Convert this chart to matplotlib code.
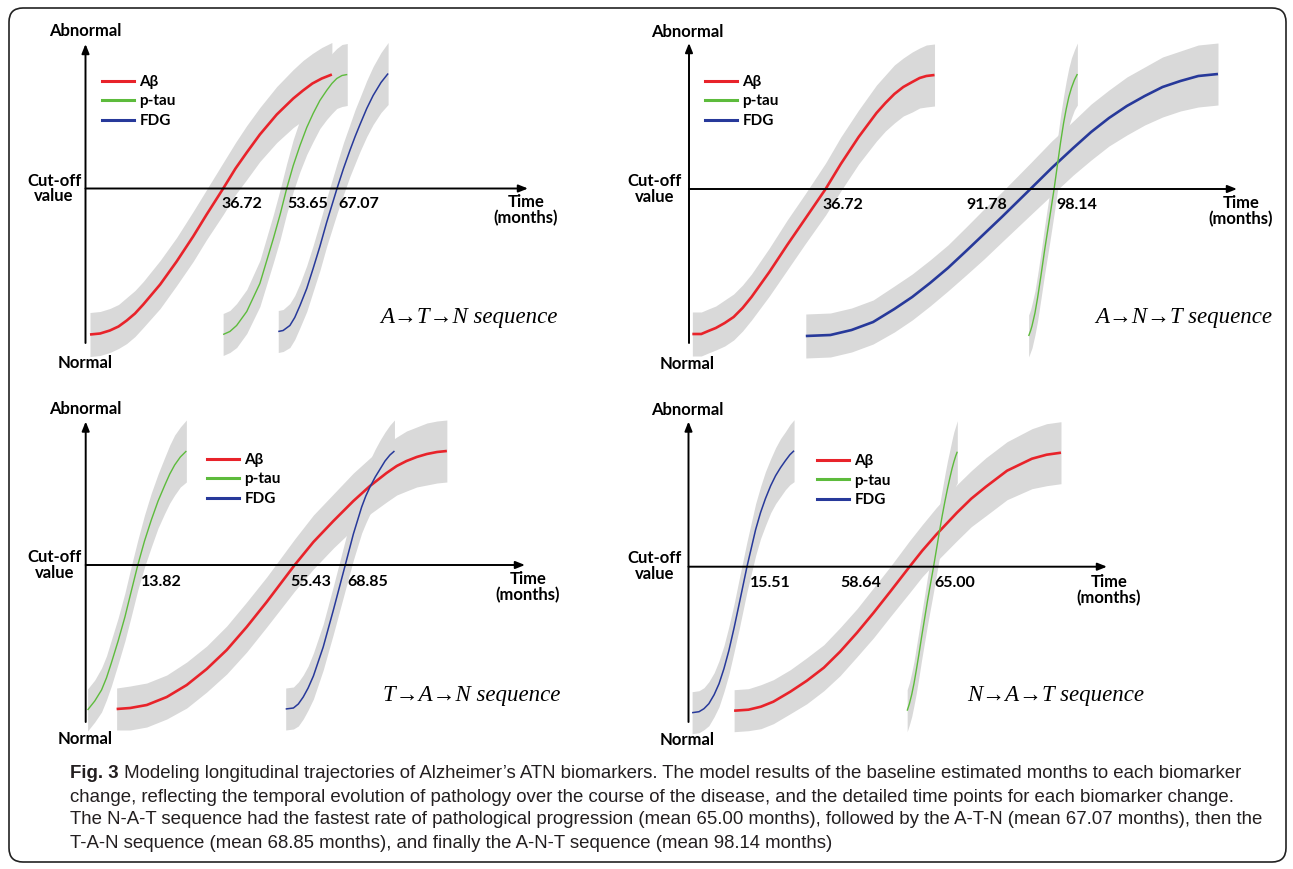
import matplotlib
matplotlib.use("Agg")
import numpy as np
import matplotlib.pyplot as plt
from matplotlib.lines import Line2D
from matplotlib.patches import FancyBboxPatch
from matplotlib.font_manager import FontProperties

# ------------------------------------------------------------------ data
biomarkers = ["Aβ", "p-tau", "FDG"]
sequences = ["A→T→N sequence", "A→N→T sequence", "T→A→N sequence", "N→A→T sequence"]

# Panel 1: A -> T -> N   (month, level relative to cut-off, ci half width)
p1_ab_month = [1.2, 3.9, 6.5, 8.8, 11.0, 13.2, 15.4, 19.9, 24.3, 28.7, 32.3, 36.72, 40.0, 43.0, 46.5, 51.0, 55.4, 58.0, 60.5, 63.0, 65.7]
p1_ab_level = [-1.46, -1.45, -1.42, -1.38, -1.32, -1.25, -1.16, -0.96, -0.73, -0.48, -0.26, 0.0, 0.20, 0.36, 0.54, 0.74, 0.90, 0.98, 1.05, 1.10, 1.14]
p1_ab_ci = [0.22, 0.22, 0.22, 0.22, 0.23, 0.23, 0.23, 0.24, 0.24, 0.25, 0.25, 0.26, 0.26, 0.27, 0.27, 0.28, 0.29, 0.30, 0.30, 0.31, 0.32]
p1_tau_month = [36.7, 38.5, 40.3, 43.0, 46.5, 50.1, 51.9, 53.65, 55.4, 57.2, 59.0, 60.7, 62.5, 64.3, 65.7, 67.0, 68.4, 69.8]
p1_tau_level = [-1.46, -1.43, -1.37, -1.23, -0.95, -0.50, -0.26, 0.0, 0.23, 0.43, 0.61, 0.75, 0.88, 0.98, 1.05, 1.10, 1.13, 1.14]
p1_tau_ci = [0.21, 0.21, 0.22, 0.22, 0.23, 0.24, 0.25, 0.25, 0.26, 0.26, 0.27, 0.28, 0.28, 0.29, 0.30, 0.30, 0.31, 0.31]
p1_fdg_month = [51.4, 52.7, 54.5, 55.8, 57.2, 59.0, 60.7, 62.5, 64.3, 67.07, 68.8, 70.5, 71.9, 73.2, 75.0, 76.7, 78.8, 80.7]
p1_fdg_level = [-1.43, -1.42, -1.37, -1.29, -1.17, -1.00, -0.80, -0.58, -0.34, 0.0, 0.20, 0.38, 0.52, 0.64, 0.80, 0.93, 1.06, 1.15]
p1_fdg_ci = [0.21, 0.21, 0.22, 0.22, 0.22, 0.23, 0.23, 0.24, 0.24, 0.25, 0.26, 0.26, 0.27, 0.27, 0.28, 0.29, 0.30, 0.31]
p1_cross = [36.72, 53.65, 67.07]

# Panel 2: A -> N -> T
p2_ab_month = [0.9, 3.3, 5.2, 7.2, 9.6, 12.0, 14.4, 16.8, 21.6, 26.4, 31.2, 36.72, 40.8, 45.6, 50.4, 52.8, 55.2, 57.6, 60.0, 62.0, 63.8, 66.0]
p2_ab_level = [-1.45, -1.45, -1.42, -1.39, -1.34, -1.28, -1.19, -1.08, -0.83, -0.56, -0.30, 0.0, 0.25, 0.52, 0.76, 0.86, 0.95, 1.02, 1.07, 1.11, 1.13, 1.14]
p2_ab_ci = [0.22, 0.22, 0.22, 0.22, 0.23, 0.23, 0.23, 0.23, 0.24, 0.25, 0.25, 0.26, 0.27, 0.27, 0.28, 0.28, 0.29, 0.29, 0.30, 0.30, 0.31, 0.31]
p2_tau_month = [91.3, 91.8, 92.2, 93.0, 93.7, 94.6, 95.6, 96.9, 98.14, 99.0, 99.9, 100.7, 101.4, 102.1, 102.8, 103.6, 104.4]
p2_tau_level = [-1.47, -1.42, -1.37, -1.24, -1.09, -0.87, -0.61, -0.30, 0.0, 0.23, 0.47, 0.66, 0.80, 0.92, 1.01, 1.09, 1.15]
p2_tau_ci = [0.21, 0.21, 0.22, 0.22, 0.23, 0.23, 0.24, 0.25, 0.25, 0.26, 0.27, 0.27, 0.28, 0.29, 0.30, 0.30, 0.31]
p2_fdg_month = [31.4, 38.0, 43.7, 49.5, 55.2, 60.0, 64.8, 69.6, 74.5, 79.3, 84.1, 91.78, 97.5, 103.3, 108.1, 112.9, 117.7, 122.5, 127.3, 132.1, 136.9, 142.2]
p2_fdg_level = [-1.47, -1.46, -1.41, -1.33, -1.20, -1.08, -0.94, -0.79, -0.62, -0.45, -0.28, 0.0, 0.21, 0.41, 0.57, 0.71, 0.83, 0.93, 1.02, 1.08, 1.13, 1.15]
p2_fdg_ci = [0.22, 0.22, 0.22, 0.22, 0.23, 0.23, 0.23, 0.23, 0.24, 0.25, 0.25, 0.26, 0.27, 0.27, 0.28, 0.28, 0.29, 0.29, 0.30, 0.30, 0.31, 0.31]
p2_cross = [36.72, 91.78, 98.14]

# Panel 3: T -> A -> N
p3_ab_month = [8.2, 11.8, 16.2, 21.5, 26.8, 32.1, 37.4, 42.7, 48.0, 55.43, 60.4, 65.7, 71.0, 75.4, 79.8, 82.5, 85.1, 87.8, 90.5, 93.2, 95.8]
p3_ab_level = [-1.44, -1.43, -1.40, -1.32, -1.20, -1.04, -0.85, -0.62, -0.37, 0.0, 0.23, 0.44, 0.64, 0.79, 0.92, 0.99, 1.04, 1.08, 1.11, 1.13, 1.14]
p3_ab_ci = [0.21, 0.22, 0.22, 0.22, 0.23, 0.23, 0.24, 0.25, 0.25, 0.26, 0.27, 0.27, 0.28, 0.28, 0.29, 0.29, 0.30, 0.30, 0.31, 0.31, 0.31]
p3_tau_month = [0.5, 2.4, 4.2, 5.5, 6.8, 8.6, 10.4, 12.1, 13.82, 15.6, 17.4, 19.2, 21.0, 22.3, 23.6, 25.1, 26.7]
p3_tau_level = [-1.45, -1.36, -1.25, -1.13, -0.98, -0.76, -0.52, -0.26, 0.0, 0.24, 0.45, 0.64, 0.80, 0.91, 1.00, 1.08, 1.14]
p3_tau_ci = [0.21, 0.21, 0.22, 0.22, 0.23, 0.23, 0.24, 0.25, 0.25, 0.26, 0.27, 0.27, 0.28, 0.29, 0.30, 0.30, 0.31]
p3_fdg_month = [53.05, 55.1, 56.4, 57.7, 59.0, 60.4, 63.0, 65.7, 68.85, 71.0, 73.2, 74.3, 75.4, 76.8, 78.1, 79.4, 80.7, 81.9]
p3_fdg_level = [-1.44, -1.43, -1.39, -1.32, -1.23, -1.11, -0.82, -0.45, 0.0, 0.31, 0.58, 0.69, 0.78, 0.88, 0.96, 1.04, 1.10, 1.14]
p3_fdg_ci = [0.21, 0.21, 0.22, 0.22, 0.22, 0.23, 0.23, 0.24, 0.25, 0.26, 0.26, 0.27, 0.27, 0.28, 0.29, 0.29, 0.30, 0.31]
p3_cross = [13.82, 55.43, 68.85]

# Panel 4: N -> A -> T
p4_ab_month = [12.1, 15.9, 19.2, 22.5, 27.0, 31.4, 35.9, 40.2, 44.7, 49.1, 53.5, 58.64, 62.0, 65.7, 71.2, 75.0, 78.9, 84.5, 91.1, 95.0, 98.8]
p4_ab_level = [-1.44, -1.43, -1.40, -1.35, -1.25, -1.14, -1.01, -0.85, -0.66, -0.46, -0.25, 0.0, 0.16, 0.32, 0.54, 0.68, 0.80, 0.96, 1.08, 1.12, 1.14]
p4_ab_ci = [0.21, 0.21, 0.22, 0.22, 0.22, 0.23, 0.23, 0.24, 0.24, 0.25, 0.25, 0.26, 0.26, 0.27, 0.28, 0.28, 0.29, 0.29, 0.30, 0.31, 0.31]
p4_tau_month = [58.0, 58.6, 59.2, 59.8, 60.4, 61.1, 61.8, 63.4, 65.0, 66.6, 67.3, 68.0, 68.7, 69.4, 69.9, 70.4, 70.9, 71.3]
p4_tau_level = [-1.44, -1.37, -1.28, -1.17, -1.04, -0.88, -0.71, -0.34, 0.0, 0.36, 0.51, 0.65, 0.78, 0.90, 0.98, 1.05, 1.11, 1.15]
p4_tau_ci = [0.21, 0.21, 0.22, 0.22, 0.23, 0.23, 0.23, 0.24, 0.25, 0.26, 0.26, 0.27, 0.28, 0.28, 0.29, 0.30, 0.30, 0.31]
p4_fdg_month = [0.95, 2.8, 4.1, 5.4, 6.8, 8.1, 9.4, 10.7, 12.1, 13.4, 15.51, 17.8, 19.1, 20.4, 21.8, 23.1, 24.4, 25.7, 26.9, 28.0]
p4_fdg_level = [-1.46, -1.45, -1.42, -1.37, -1.28, -1.17, -1.02, -0.84, -0.61, -0.38, 0.0, 0.37, 0.54, 0.68, 0.81, 0.91, 0.99, 1.06, 1.12, 1.16]
p4_fdg_ci = [0.21, 0.21, 0.21, 0.22, 0.22, 0.23, 0.23, 0.24, 0.24, 0.25, 0.25, 0.26, 0.26, 0.27, 0.27, 0.28, 0.29, 0.29, 0.30, 0.31]
p4_cross = [15.51, 58.64, 65.00]

caption_bold = "Fig. 3"
caption_lines = [
    " Modeling longitudinal trajectories of Alzheimer’s ATN biomarkers. The model results of the baseline estimated months to each biomarker",
    "change, reflecting the temporal evolution of pathology over the course of the disease, and the detailed time points for each biomarker change.",
    "The N-A-T sequence had the fastest rate of pathological progression (mean 65.00 months), followed by the A-T-N (mean 67.07 months), then the",
    "T-A-N sequence (mean 68.85 months), and finally the A-N-T sequence (mean 98.14 months)",
]

# ------------------------------------------------------------------ style
RED, GREEN, BLUE, GRAY = "#e8232a", "#5dbb3c", "#27399a", "#d9d9d9"
W, H = 1293, 869
LBL = FontProperties(family=["Lato", "DejaVu Sans"], weight="bold", size=12)
NUM = FontProperties(family=["Lato", "DejaVu Sans"], weight="bold", size=11.5)
LEG = FontProperties(family=["Lato", "DejaVu Sans"], weight="bold", size=11)
SEQ = FontProperties(family=["Liberation Serif", "DejaVu Serif"], style="italic", size=16.5)

fig = plt.figure(figsize=(W / 100, H / 100), dpi=100)
bg = fig.add_axes([0, 0, 1, 1])
bg.set_xlim(0, W)
bg.set_ylim(H, 0)
bg.axis("off")
bg.add_patch(FancyBboxPatch((9, 8), 1277, 854, boxstyle="round,pad=0,rounding_size=14",
                            fill=False, ec="#222222", lw=1.2))

panels = [
    dict(box=(10, 10, 640, 385), x0=85.5, yc=188.5, s=3.75, ytop=44, ybot=343, xtip=528,
         curves=[(p1_ab_month, p1_ab_level, p1_ab_ci, RED, 1.9),
                 (p1_tau_month, p1_tau_level, p1_tau_ci, GREEN, 1.0),
                 (p1_fdg_month, p1_fdg_level, p1_fdg_ci, BLUE, 1.1)],
         cross=p1_cross, coff=[(-2, "left"), (1, "left"), (1, "left")], cdy=15.5,
         seq=sequences[0], seqpos=(469, 318), leg=(102, 75),
         abn=(85, 31), nor=(85, 363), cut=(54, 188.5), time=(526, 210)),
    dict(box=(640, 10, 1285, 385), x0=689, yc=189, s=3.72, ytop=43, ybot=343, xtip=1237,
         curves=[(p2_ab_month, p2_ab_level, p2_ab_ci, RED, 1.9),
                 (p2_fdg_month, p2_fdg_level, p2_fdg_ci, BLUE, 1.9),
                 (p2_tau_month, p2_tau_level, p2_tau_ci, GREEN, 1.0)],
         cross=p2_cross, coff=[(-3, "left"), (-23, "right"), (2, "left")], cdy=16,
         seq=sequences[1], seqpos=(1184, 317), leg=(705, 75),
         abn=(687, 32), nor=(687, 364), cut=(655, 189), time=(1241, 211)),
    dict(box=(10, 385, 640, 755), x0=85.7, yc=565, s=3.77, ytop=421.5, ybot=722, xtip=525,
         curves=[(p3_tau_month, p3_tau_level, p3_tau_ci, GREEN, 1.0),
                 (p3_ab_month, p3_ab_level, p3_ab_ci, RED, 1.9),
                 (p3_fdg_month, p3_fdg_level, p3_fdg_ci, BLUE, 1.1)],
         cross=p3_cross, coff=[(3, "left"), (-4, "left"), (2, "left")], cdy=16.7,
         seq=sequences[2], seqpos=(472, 696), leg=(207, 453),
         abn=(85, 409), nor=(85, 739), cut=(54.5, 565), time=(528, 587)),
    dict(box=(640, 385, 1285, 755), x0=688.5, yc=566.7, s=3.77, ytop=421.5, ybot=722, xtip=1107,
         curves=[(p4_fdg_month, p4_fdg_level, p4_fdg_ci, BLUE, 1.1),
                 (p4_ab_month, p4_ab_level, p4_ab_ci, RED, 1.9),
                 (p4_tau_month, p4_tau_level, p4_tau_ci, GREEN, 1.0)],
         cross=p4_cross, coff=[(2.5, "left"), (-28, "right"), (1, "left")], cdy=16,
         seq=sequences[3], seqpos=(1056, 696), leg=(817, 454),
         abn=(687, 410), nor=(687, 740), cut=(655, 566), time=(1109, 590)),
]

for p in panels:
    L, T, R, B = p["box"]
    x0, yc, s = p["x0"], p["yc"], p["s"]
    ax = fig.add_axes([L / W, 1 - B / H, (R - L) / W, (B - T) / H])
    ax.set_xlim((L - x0) / s, (R - x0) / s)
    ax.set_ylim((yc - B) / 100, (yc - T) / 100)
    ax.axis("off")
    ax.patch.set_alpha(0)
    for mx, lv, ci, col, lw in p["curves"]:
        mx, lv, ci = np.asarray(mx), np.asarray(lv), np.asarray(ci)
        ax.fill_between(mx, lv - ci, lv + ci, color=GRAY, lw=0, zorder=1)
    for mx, lv, ci, col, lw in p["curves"]:
        ax.plot(mx, lv, color=col, lw=lw, zorder=3, solid_capstyle="butt", solid_joinstyle="round")
    arr = dict(arrowstyle="-|>,head_length=0.55,head_width=0.22", lw=1.4, color="black",
               shrinkA=0, shrinkB=0, mutation_scale=10)
    ax.annotate("", xy=(0, (yc - p["ytop"]) / 100), xytext=(0, (yc - p["ybot"]) / 100),
                arrowprops=arr, zorder=5)
    ax.annotate("", xy=((p["xtip"] - x0) / s, 0), xytext=(0, 0), arrowprops=arr, zorder=5)
    for val, (dx, ha) in zip(p["cross"], p["coff"]):
        ax.annotate(f"{val:.2f}", xy=(val, 0), xytext=(dx * 0.72, -p["cdy"] * 0.72),
                    textcoords="offset points", ha=ha, va="center", fontproperties=NUM, zorder=6)
    handles = [Line2D([], [], color=c, lw=2.2) for c in (RED, GREEN, BLUE)]
    ax.legend(handles, biomarkers, loc="upper left",
              bbox_to_anchor=(p["leg"][0] / W, 1 - p["leg"][1] / H), bbox_transform=fig.transFigure,
              frameon=False, borderpad=0, borderaxespad=0, handlelength=2.1, handletextpad=0.35,
              labelspacing=0.36, prop=LEG)
    bg.text(*p["abn"], "Abnormal", ha="center", va="center", fontproperties=LBL)
    bg.text(*p["nor"], "Normal", ha="center", va="center", fontproperties=LBL)
    bg.text(*p["cut"], "Cut-off\nvalue", ha="center", va="center", fontproperties=LBL, linespacing=0.95)
    bg.text(*p["time"], "Time\n(months)", ha="center", va="center", fontproperties=LBL, linespacing=1.0)
    bg.text(*p["seqpos"], p["seq"], ha="center", va="center", fontproperties=SEQ)

# ------------------------------------------------------------------ caption
cap_family = ["Liberation Sans", "DejaVu Sans"]
fig.canvas.draw()
rend = fig.canvas.get_renderer()
probe = bg.text(70, 797, caption_lines[1], fontsize=12, family=cap_family, va="center")
wpx = probe.get_window_extent(rend).width
probe.remove()
cap_size = 12 * (1241 - 70) / wpx
cap_y = [773, 797, 820, 844]
fb = bg.text(70, cap_y[0], caption_bold, fontsize=cap_size, family=cap_family, weight="bold",
             va="center", color="#231f20")
bw = fb.get_window_extent(rend).width
bg.text(70 + bw, cap_y[0], caption_lines[0], fontsize=cap_size, family=cap_family,
        va="center", color="#231f20")
for line, y in zip(caption_lines[1:], cap_y[1:]):
    bg.text(70, y, line, fontsize=cap_size, family=cap_family, va="center", color="#231f20")

fig.savefig("out.png", dpi=100)
